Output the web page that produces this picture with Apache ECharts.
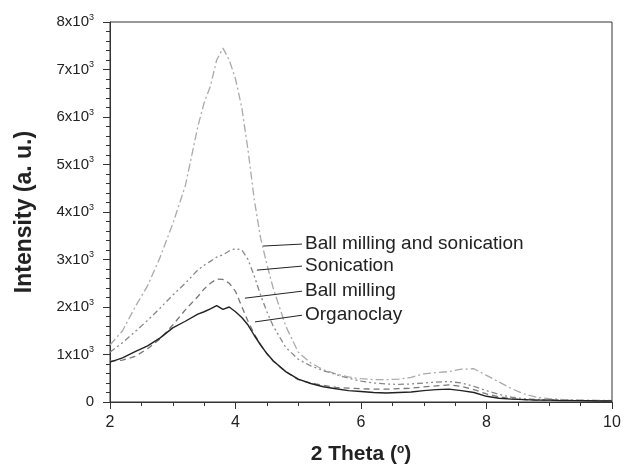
<!DOCTYPE html>
<html>
<head>
<meta charset="utf-8">
<script src="https://cdn.jsdelivr.net/npm/echarts@6/dist/echarts.min.js"></script>
<style>
  html, body { margin: 0; padding: 0; background: #fff; }
  #chart { width: 633px; height: 465px; }
</style>
</head>
<body>
<div id="chart"></div>
<script>
// 2 theta positions (degrees)
const theta = [2.0, 2.2, 2.4, 2.6, 2.8, 3.0, 3.2, 3.4, 3.5, 3.6, 3.7, 3.8, 3.9, 4.0, 4.1, 4.2, 4.3, 4.4, 4.5, 4.6,
    4.8, 5.0, 5.2, 5.4, 5.6, 5.8, 6.0, 6.2, 6.4, 6.6, 6.8, 7.0, 7.2, 7.4, 7.6, 7.8, 8.0, 8.2, 8.4, 8.6,
    8.8, 9.0, 9.2, 9.4, 9.6, 9.8, 10.0];

const organoclay = [840, 930, 1060, 1180, 1350, 1560, 1700, 1850, 1900, 1960, 2030, 1950, 2000, 1900, 1780, 1620, 1400, 1200, 1020, 870,
    640, 480, 390, 320, 280, 240, 220, 200, 190, 200, 210, 240, 260, 270, 240, 200, 120, 80, 60, 50,
    40, 40, 30, 30, 25, 20, 20];

const ballMilling = [860, 880, 960, 1120, 1330, 1620, 1940, 2220, 2380, 2500, 2590, 2580, 2500, 2330, 2010, 1700, 1430, 1210, 1020, 860,
    640, 470, 400, 350, 310, 290, 280, 270, 270, 280, 290, 320, 340, 360, 330, 260, 170, 110, 70, 50,
    40, 40, 35, 30, 30, 25, 20];

const sonication = [1050, 1250, 1480, 1720, 1980, 2250, 2500, 2780, 2880, 2960, 3050, 3100, 3180, 3230, 3200, 3000, 2650, 2250, 1900, 1600,
    1150, 900, 760, 660, 580, 500, 440, 400, 380, 370, 380, 400, 420, 430, 400, 330, 240, 160, 100, 70,
    55, 45, 40, 35, 30, 30, 25];

const ballMillingSonication = [1200, 1500, 2000, 2450, 3050, 3750, 4550, 5800, 6300, 6650, 7200, 7450, 7200, 6800, 6200, 5300, 4250, 3450, 2900, 2400,
    1600, 1050, 820, 680, 590, 530, 490, 470, 470, 480, 520, 590, 620, 640, 690, 700, 560, 420, 280, 170,
    100, 70, 55, 45, 40, 35, 30];

const seriesNames = ['Ball milling and sonication', 'Sonication', 'Ball milling', 'Organoclay'];

// leader line end points [theta, intensity] : curve side, text side
const leaders = [
    [[4.44, 3283], [5.06, 3325]],
    [[4.34, 2776], [5.06, 2861]],
    [[4.15, 2186], [5.06, 2333]],
    [[4.31, 1686], [5.06, 1827]]
];

const pair = (ys) => theta.map((t, i) => [t, ys[i]]);

const FONT = 'Liberation Sans, Arial, sans-serif';

const myChart = echarts.init(document.getElementById('chart'));

function leaderLine(idx) {
    return {
        silent: true,
        symbol: 'none',
        lineStyle: { color: '#222', type: 'solid', width: 1 },
        label: {
            show: true,
            position: 'end',
            distance: 3,
            formatter: seriesNames[idx],
            color: '#222',
            fontSize: 19,
            fontFamily: FONT
        },
        data: [[{ coord: leaders[idx][0] }, { coord: leaders[idx][1] }]]
    };
}

const option = {
    animation: false,
    grid: {
        left: 110,
        right: 21,
        top: 22,
        bottom: 63,
        containLabel: false,
        outerBoundsMode: 'none',
        show: true,
        borderColor: '#333',
        borderWidth: 1
    },
    xAxis: {
        type: 'value',
        min: 2,
        max: 10,
        interval: 2,
        name: '2 Theta ({s|o})',
        nameLocation: 'middle',
        nameGap: 42,
        nameTextStyle: {
            fontSize: 21,
            fontWeight: 'bold',
            color: '#222',
            fontFamily: FONT,
            rich: {
                s: { fontSize: 12, fontWeight: 'bold', verticalAlign: 'top', padding: [0, 0, 9, 0] }
            }
        },
        axisLine: { lineStyle: { color: '#333', width: 1 } },
        axisTick: { length: 7, lineStyle: { color: '#333' } },
        minorTick: { show: true, splitNumber: 4, length: 4, lineStyle: { color: '#333' } },
        splitLine: { show: false },
        axisLabel: {
            color: '#222',
            fontSize: 16,
            margin: 13,
            fontFamily: FONT
        }
    },
    yAxis: {
        type: 'value',
        min: 0,
        max: 8000,
        interval: 1000,
        name: 'Intensity (a. u.)',
        nameLocation: 'middle',
        nameGap: 74,
        nameTextStyle: {
            fontSize: 23,
            fontWeight: 'bold',
            color: '#222',
            fontFamily: FONT
        },
        axisLine: { show: true, lineStyle: { color: '#333', width: 1 } },
        axisTick: { show: true, length: 7, lineStyle: { color: '#333' } },
        minorTick: { show: true, splitNumber: 5, length: 4, lineStyle: { color: '#333' } },
        splitLine: { show: false },
        axisLabel: {
            color: '#222',
            fontSize: 15,
            margin: 16,
            fontFamily: FONT,
            formatter: function (v) {
                if (v === 0) return '0';
                return '{m|' + (v / 1000) + 'x10}{s|3}';
            },
            rich: {
                m: { fontSize: 15, color: '#222', fontFamily: FONT },
                s: { fontSize: 9, color: '#222', fontFamily: FONT, verticalAlign: 'top', padding: [0, 0, 9, 0] }
            }
        }
    },
    series: [
        {
            name: seriesNames[0],
            type: 'line',
            showSymbol: false,
            data: pair(ballMillingSonication),
            lineStyle: { color: '#aaa', width: 1.3, type: [8, 3, 2, 3] },
            z: 1,
            markLine: leaderLine(0)
        },
        {
            name: seriesNames[1],
            type: 'line',
            showSymbol: false,
            data: pair(sonication),
            lineStyle: { color: '#888', width: 1.3, type: [6, 3, 2, 3, 2, 3] },
            z: 2,
            markLine: leaderLine(1)
        },
        {
            name: seriesNames[2],
            type: 'line',
            showSymbol: false,
            data: pair(ballMilling),
            lineStyle: { color: '#777', width: 1.3, type: [6, 4] },
            z: 3,
            markLine: leaderLine(2)
        },
        {
            name: seriesNames[3],
            type: 'line',
            showSymbol: false,
            data: pair(organoclay),
            lineStyle: { color: '#222', width: 1.4, type: 'solid' },
            z: 4,
            markLine: leaderLine(3)
        }
    ]
};

myChart.setOption(option);
</script>
</body>
</html>
